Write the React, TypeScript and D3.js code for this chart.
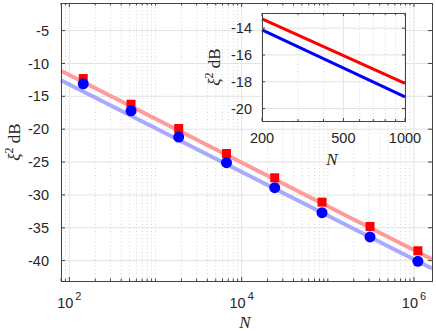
import React from 'react';
import * as d3 from 'd3';

// measured points (red squares / blue circles)
const sizes = [145, 520, 1860, 6670, 24200, 85700, 309000, 1110000];
const redPts = [-12.3, -16.2, -19.9, -23.7, -27.4, -31.1, -34.8, -38.5];
const bluePts = [-13.1, -17.2, -21.2, -25.1, -28.9, -32.7, -36.4, -40.1];

// fit lines across the main axis
const fitN = [80, 1.62e6];
const fitRed = [-11.1, -39.8];
const fitBlue = [-12.55, -41.2];

// inset curves
const insetN = [200, 1000];
const insetRed = [-13.3, -18.13];
const insetBlue = [-14.13, -19.13];

const yTicks = [-40, -35, -30, -25, -20, -15, -10, -5];
const xTicks = [1e2, 1e4, 1e6];
const xTickExp = ['2', '4', '6'];
const insetYTicks = [-20, -18, -16, -14];
const insetXTicks = [200, 500, 1000];
const insetXMinor = [300, 400, 600, 700, 800, 900];

const W = 436;
const H = 331;
const sans = 'Liberation Sans, Arial, Helvetica, sans-serif';
const serif = 'Liberation Serif, Times New Roman, serif';
const axisColor = '#444';
const gridColor = '#e3e3e3';
const minorGrid = '#d4d4d4';
const tickFont = 14.5;
const labelFont = 17;

const App = () => {
  const x = d3.scaleLog().domain([80, 1.62e6]).range([61, 432]);
  const y = d3.scaleLinear().domain([-43.1, -0.8]).range([281, 3]);

  const xi = d3.scaleLog().domain([200, 1000]).range([262, 405]);
  const yi = d3.scaleLinear().domain([-20.93, -12.87]).range([121, 13]);

  // minor x positions (1..9 per decade) within domain
  const minorX: number[] = [];
  for (let e = 1; e <= 6; e++) {
    for (let m = 1; m <= 9; m++) {
      const v = m * Math.pow(10, e);
      if (v >= 80 && v <= 1.62e6 && !xTicks.includes(v)) minorX.push(v);
    }
  }

  const line = (sx: any, sy: any) =>
    d3.line<[number, number]>().x(d => sx(d[0])).y(d => sy(d[1]));
  const mainLine = line(x, y);
  const insLine = line(xi, yi);

  const [x0, x1] = x.range();
  const [y0, y1] = y.range(); // y0 bottom, y1 top
  const [ix0, ix1] = xi.range();
  const [iy0, iy1] = yi.range();

  return (
    <svg width={W} height={H} style={{ position: 'absolute', left: 0, top: 0, background: '#fff' }}>
      {/* main grid */}
      <g>
        {minorX.map((v, i) => (
          <line key={'mx' + i} x1={x(v)} x2={x(v)} y1={y0} y2={y1}
            stroke={minorGrid} strokeWidth={1} strokeDasharray="1,2.5" />
        ))}
        {xTicks.map((v, i) => (
          <line key={'gx' + i} x1={x(v)} x2={x(v)} y1={y0} y2={y1} stroke={gridColor} strokeWidth={1} />
        ))}
        {yTicks.map((v, i) => (
          <line key={'gy' + i} x1={x0} x2={x1} y1={y(v)} y2={y(v)} stroke={gridColor} strokeWidth={1} />
        ))}
      </g>

      {/* fit lines */}
      <path d={mainLine(fitN.map((n, i) => [n, fitRed[i]]) as any) || ''}
        stroke="#ff9b9b" strokeWidth={4} fill="none" />
      <path d={mainLine(fitN.map((n, i) => [n, fitBlue[i]]) as any) || ''}
        stroke="#a9a9ff" strokeWidth={4} fill="none" />

      {/* markers */}
      {sizes.map((n, i) => (
        <rect key={'r' + i} x={x(n) - 4.5} y={y(redPts[i]) - 4.5} width={9} height={9} fill="#ff0000" />
      ))}
      {sizes.map((n, i) => (
        <circle key={'c' + i} cx={x(n)} cy={y(bluePts[i])} r={5.5} fill="#0000ff" />
      ))}

      {/* main box & ticks */}
      <rect x={x0 + 0.5} y={y1 + 0.5} width={x1 - x0} height={y0 - y1}
        fill="none" stroke={axisColor} strokeWidth={1} />
      {yTicks.map((v, i) => (
        <g key={'ty' + i}>
          <line x1={x0} x2={x0 + 4} y1={y(v)} y2={y(v)} stroke={axisColor} />
          <line x1={x1} x2={x1 - 4} y1={y(v)} y2={y(v)} stroke={axisColor} />
          <text x={x0 - 12} y={y(v)} dy="0.35em" textAnchor="end"
            fontFamily={sans} fontSize={tickFont} fill="#262626">{v}</text>
        </g>
      ))}
      {xTicks.map((v, i) => (
        <g key={'tx' + i}>
          <line x1={x(v)} x2={x(v)} y1={y0} y2={y0 - 4} stroke={axisColor} />
          <line x1={x(v)} x2={x(v)} y1={y1} y2={y1 + 4} stroke={axisColor} />
          <text x={x(v)} y={y0 + 27} textAnchor="middle" fontFamily={sans} fontSize={tickFont} fill="#262626">
            10<tspan dx={2} dy={-8} fontSize={11}>{xTickExp[i]}</tspan>
          </text>
        </g>
      ))}
      {minorX.map((v, i) => (
        <g key={'tm' + i}>
          <line x1={x(v)} x2={x(v)} y1={y0} y2={y0 - 2.5} stroke={axisColor} />
          <line x1={x(v)} x2={x(v)} y1={y1} y2={y1 + 2.5} stroke={axisColor} />
        </g>
      ))}

      {/* main labels */}
      <text x={245} y={328} textAnchor="middle" fontFamily={serif} fontStyle="italic" fontSize={labelFont} fill="#262626">N</text>
      <text transform={`translate(20,${(y0 + y1) / 2}) rotate(-90)`} textAnchor="middle"
        fontFamily={serif} fontSize={labelFont} fill="#262626">
        <tspan fontStyle="italic">ξ</tspan>
        <tspan dy={-7} fontSize={12}>2</tspan>
        <tspan dy={7}> dB</tspan>
      </text>

      {/* inset */}
      <rect x={ix0} y={iy1} width={ix1 - ix0} height={iy0 - iy1} fill="#fff" />
      {insetXMinor.map((v, i) => (
        <line key={'imx' + i} x1={xi(v)} x2={xi(v)} y1={iy0} y2={iy1}
          stroke={minorGrid} strokeDasharray="1,2.5" />
      ))}
      {insetXTicks.map((v, i) => (
        <line key={'igx' + i} x1={xi(v)} x2={xi(v)} y1={iy0} y2={iy1} stroke={gridColor} />
      ))}
      {insetYTicks.map((v, i) => (
        <line key={'igy' + i} x1={ix0} x2={ix1} y1={yi(v)} y2={yi(v)} stroke={gridColor} />
      ))}
      <path d={insLine(insetN.map((n, i) => [n, insetRed[i]]) as any) || ''}
        stroke="#ff0000" strokeWidth={3} fill="none" />
      <path d={insLine(insetN.map((n, i) => [n, insetBlue[i]]) as any) || ''}
        stroke="#0000ff" strokeWidth={3} fill="none" />
      <rect x={ix0 + 0.5} y={iy1 + 0.5} width={ix1 - ix0} height={iy0 - iy1}
        fill="none" stroke={axisColor} strokeWidth={1} />
      {insetYTicks.map((v, i) => (
        <g key={'ity' + i}>
          <line x1={ix0} x2={ix0 + 3} y1={yi(v)} y2={yi(v)} stroke={axisColor} />
          <line x1={ix1} x2={ix1 - 3} y1={yi(v)} y2={yi(v)} stroke={axisColor} />
          <text x={ix0 - 10} y={yi(v)} dy="0.35em" textAnchor="end"
            fontFamily={sans} fontSize={tickFont} fill="#262626">{v}</text>
        </g>
      ))}
      {insetXTicks.map((v, i) => (
        <g key={'itx' + i}>
          <line x1={xi(v)} x2={xi(v)} y1={iy0} y2={iy0 - 3} stroke={axisColor} />
          <line x1={xi(v)} x2={xi(v)} y1={iy1} y2={iy1 + 3} stroke={axisColor} />
          <text x={xi(v)} y={iy0 + 22} textAnchor="middle" fontFamily={sans} fontSize={tickFont} fill="#262626">{v}</text>
        </g>
      ))}
      {insetXMinor.map((v, i) => (
        <g key={'itm' + i}>
          <line x1={xi(v)} x2={xi(v)} y1={iy0} y2={iy0 - 2} stroke={axisColor} />
          <line x1={xi(v)} x2={xi(v)} y1={iy1} y2={iy1 + 2} stroke={axisColor} />
        </g>
      ))}
      <text x={332} y={165} textAnchor="middle" fontFamily={serif} fontStyle="italic" fontSize={labelFont} fill="#262626">N</text>
      <text transform={`translate(220,${(iy0 + iy1) / 2}) rotate(-90)`} textAnchor="middle"
        fontFamily={serif} fontSize={labelFont} fill="#262626">
        <tspan fontStyle="italic">ξ</tspan>
        <tspan dy={-7} fontSize={12}>2</tspan>
        <tspan dy={7}> dB</tspan>
      </text>
    </svg>
  );
};

export default App;
